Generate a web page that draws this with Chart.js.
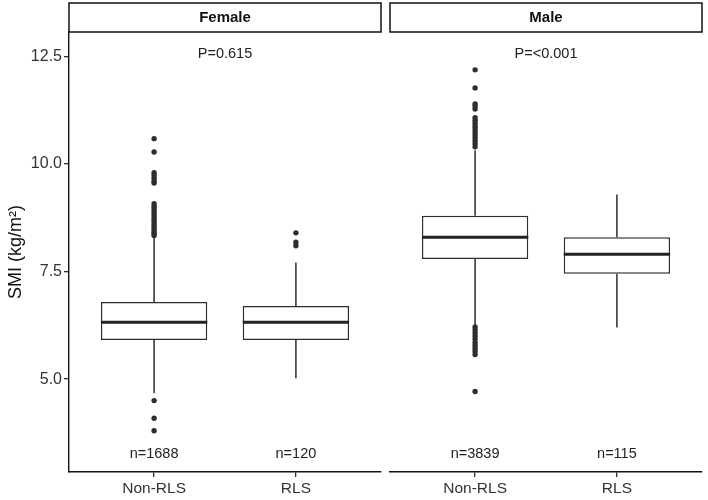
<!DOCTYPE html>
<html>
<head>
<meta charset="utf-8">
<script src="https://cdn.jsdelivr.net/npm/chart.js@4/dist/chart.umd.min.js"></script>
<style>
    body { margin: 0; background: #fff; }
    #wrap { position: relative; width: 708px; height: 500px; overflow: hidden; }
    canvas { position: absolute; top: 0; }
    #female-chart { left: 0; }
    #male-chart { left: 382px; }
</style>
</head>
<body>
<div id="wrap">
    <canvas id="female-chart" width="385" height="500"></canvas>
    <canvas id="male-chart" width="326" height="500"></canvas>
</div>
<script>
const categories = ["Non-RLS", "RLS"];
const panels     = ["Female", "Male"];
const pLabels    = ["P=0.615", "P=<0.001"];
const yTicks     = [5.0, 7.5, 10.0, 12.5];

// box stats, one value per category
const femaleLower  = [4.67, 5.02];
const femaleQ1     = [5.91, 5.91];
const femaleMedian = [6.32, 6.32];
const femaleQ3     = [6.79, 6.70];
const femaleUpper  = [8.28, 7.71];
const femaleN      = [1688, 120];

const maleLower  = [6.26, 6.20];
const maleQ1     = [7.79, 7.45];
const maleMedian = [8.30, 7.90];
const maleQ3     = [8.80, 8.30];
const maleUpper  = [10.32, 9.29];
const maleN      = [3839, 115];

const femaleOutliersNonRLS = [10.59, 10.28, 9.80, 9.74, 9.67, 9.60, 9.56,
    9.08, 9.02, 8.97, 8.91, 8.86, 8.80, 8.74, 8.69, 8.63, 8.57, 8.52, 8.47, 8.42, 8.38, 8.34,
    4.50, 4.09, 3.80];
const femaleOutliersRLS = [8.40, 8.18, 8.10];
const maleOutliersNonRLS = [12.19, 11.77, 11.40, 11.35, 11.28,
    11.08, 11.02, 10.95, 10.88, 10.82, 10.75, 10.68, 10.61, 10.54, 10.47, 10.40,
    6.21, 6.14, 6.07, 6.00, 5.93, 5.85, 5.78, 5.71, 5.64, 5.57,
    4.71];
const maleOutliersRLS = [];

const Y_MIN = 2.84;
const Y_MAX = 13.07;
const BOX_WIDTH = 0.75;
const INK = "#2e2e2e";
const FONT = "'Liberation Sans', Arial, sans-serif";

Chart.defaults.font.family = FONT;

const facetPlugin = {
    id: "facet",
    afterDraw(chart, args, opts)
    {
        const ctx  = chart.ctx;
        const area = chart.chartArea;
        const xs   = chart.scales.x;
        const ys   = chart.scales.y;

        // strip
        ctx.save();
        ctx.fillStyle = "#fff";
        ctx.strokeStyle = "#111";
        ctx.lineWidth = 1.5;
        ctx.fillRect(area.left, 3, area.right - area.left, 29);
        ctx.strokeRect(area.left, 3, area.right - area.left, 29);
        ctx.fillStyle = "#111";
        ctx.font = "bold 15px " + FONT;
        ctx.textAlign = "center";
        ctx.textBaseline = "middle";
        ctx.fillText(opts.panel, (area.left + area.right) / 2, 18);

        // p value and n labels
        ctx.fillStyle = "#222";
        ctx.font = "14.5px " + FONT;
        ctx.fillText(opts.pLabel, xs.getPixelForValue(1.5), ys.getPixelForValue(12.56));
        opts.n.forEach((n, i) => {
            ctx.fillText("n=" + n, xs.getPixelForValue(i + 1), ys.getPixelForValue(3.25));
        });
        ctx.restore();
    }
};

function buildChart(canvasId, panel, lower, q1, median, q3, upper, outliers, n, pLabel, showY)
{
    const boxes = categories.map((c, i) => ({ x: i + 1, y: [q1[i], q3[i]] }));

    const whiskers = [];
    const medians  = [];
    categories.forEach((c, i) => {
        whiskers.push({ x: i + 1, y: q3[i] }, { x: i + 1, y: upper[i] }, { x: i + 1, y: null });
        whiskers.push({ x: i + 1, y: q1[i] }, { x: i + 1, y: lower[i] }, { x: i + 1, y: null });
        medians.push({ x: i + 1 - BOX_WIDTH / 2, y: median[i] },
                     { x: i + 1 + BOX_WIDTH / 2, y: median[i] },
                     { x: i + 1, y: null });
    });

    const points = [];
    outliers.forEach((list, i) => list.forEach(v => points.push({ x: i + 1, y: v })));

    const ctx = document.getElementById(canvasId).getContext("2d");

    return new Chart(ctx, {
        type: "bar",
        data: {
            datasets: [
                {
                    type: "bar",
                    data: boxes,
                    backgroundColor: "#fff",
                    borderColor: INK,
                    borderWidth: 1.5,
                    borderSkipped: false,
                    barPercentage: BOX_WIDTH,
                    categoryPercentage: 1,
                    order: 3
                },
                {
                    type: "line",
                    data: whiskers,
                    borderColor: INK,
                    borderWidth: 1.5,
                    pointRadius: 0,
                    spanGaps: false,
                    order: 2
                },
                {
                    type: "line",
                    data: medians,
                    borderColor: "#222",
                    borderWidth: 3,
                    pointRadius: 0,
                    spanGaps: false,
                    order: 1
                },
                {
                    type: "scatter",
                    data: points,
                    backgroundColor: INK,
                    borderWidth: 0,
                    pointRadius: 2.7,
                    order: 0
                }
            ]
        },
        options: {
            responsive: false,
            animation: false,
            devicePixelRatio: 1,
            layout: {
                padding: showY ? { top: 32, left: 0, right: 1, bottom: 0 }
                               : { top: 32, left: 8, right: 6, bottom: 0 }
            },
            plugins: {
                legend: { display: false },
                tooltip: { enabled: false },
                facet: { panel, pLabel, n }
            },
            scales: {
                x: {
                    type: "linear",
                    min: 0.4,
                    max: 2.6,
                    offset: false,
                    afterBuildTicks: scale => { scale.ticks = categories.map((c, i) => ({ value: i + 1 })); },
                    afterFit: scale => { scale.height = 28; },
                    ticks: {
                        callback: v => categories[v - 1],
                        color: "#333",
                        font: { size: 15.5 },
                        padding: 2,
                        maxRotation: 0
                    },
                    grid: { drawOnChartArea: false, offset: false, tickLength: 5, color: INK, lineWidth: 1.3 },
                    border: { display: true, color: "#111", width: 1.4 }
                },
                y: {
                    display: showY,
                    min: Y_MIN,
                    max: Y_MAX,
                    afterBuildTicks: scale => { scale.ticks = yTicks.map(v => ({ value: v })); },
                    afterFit: scale => { if (showY) scale.width = 69; },
                    ticks: {
                        callback: v => v.toFixed(1),
                        color: "#333",
                        font: { size: 16 },
                        padding: 2
                    },
                    grid: { drawOnChartArea: false, tickLength: 5, color: INK, lineWidth: 1.3 },
                    border: { display: true, color: "#111", width: 1.4 },
                    title: {
                        display: true,
                        text: "SMI (kg/m²)",
                        color: "#111",
                        font: { size: 18 },
                        padding: { top: 5, bottom: 4 }
                    }
                }
            }
        },
        plugins: [facetPlugin]
    });
}

buildChart("female-chart", panels[0], femaleLower, femaleQ1, femaleMedian, femaleQ3, femaleUpper,
           [femaleOutliersNonRLS, femaleOutliersRLS], femaleN, pLabels[0], true);
buildChart("male-chart", panels[1], maleLower, maleQ1, maleMedian, maleQ3, maleUpper,
           [maleOutliersNonRLS, maleOutliersRLS], maleN, pLabels[1], false);
</script>
</body>
</html>
